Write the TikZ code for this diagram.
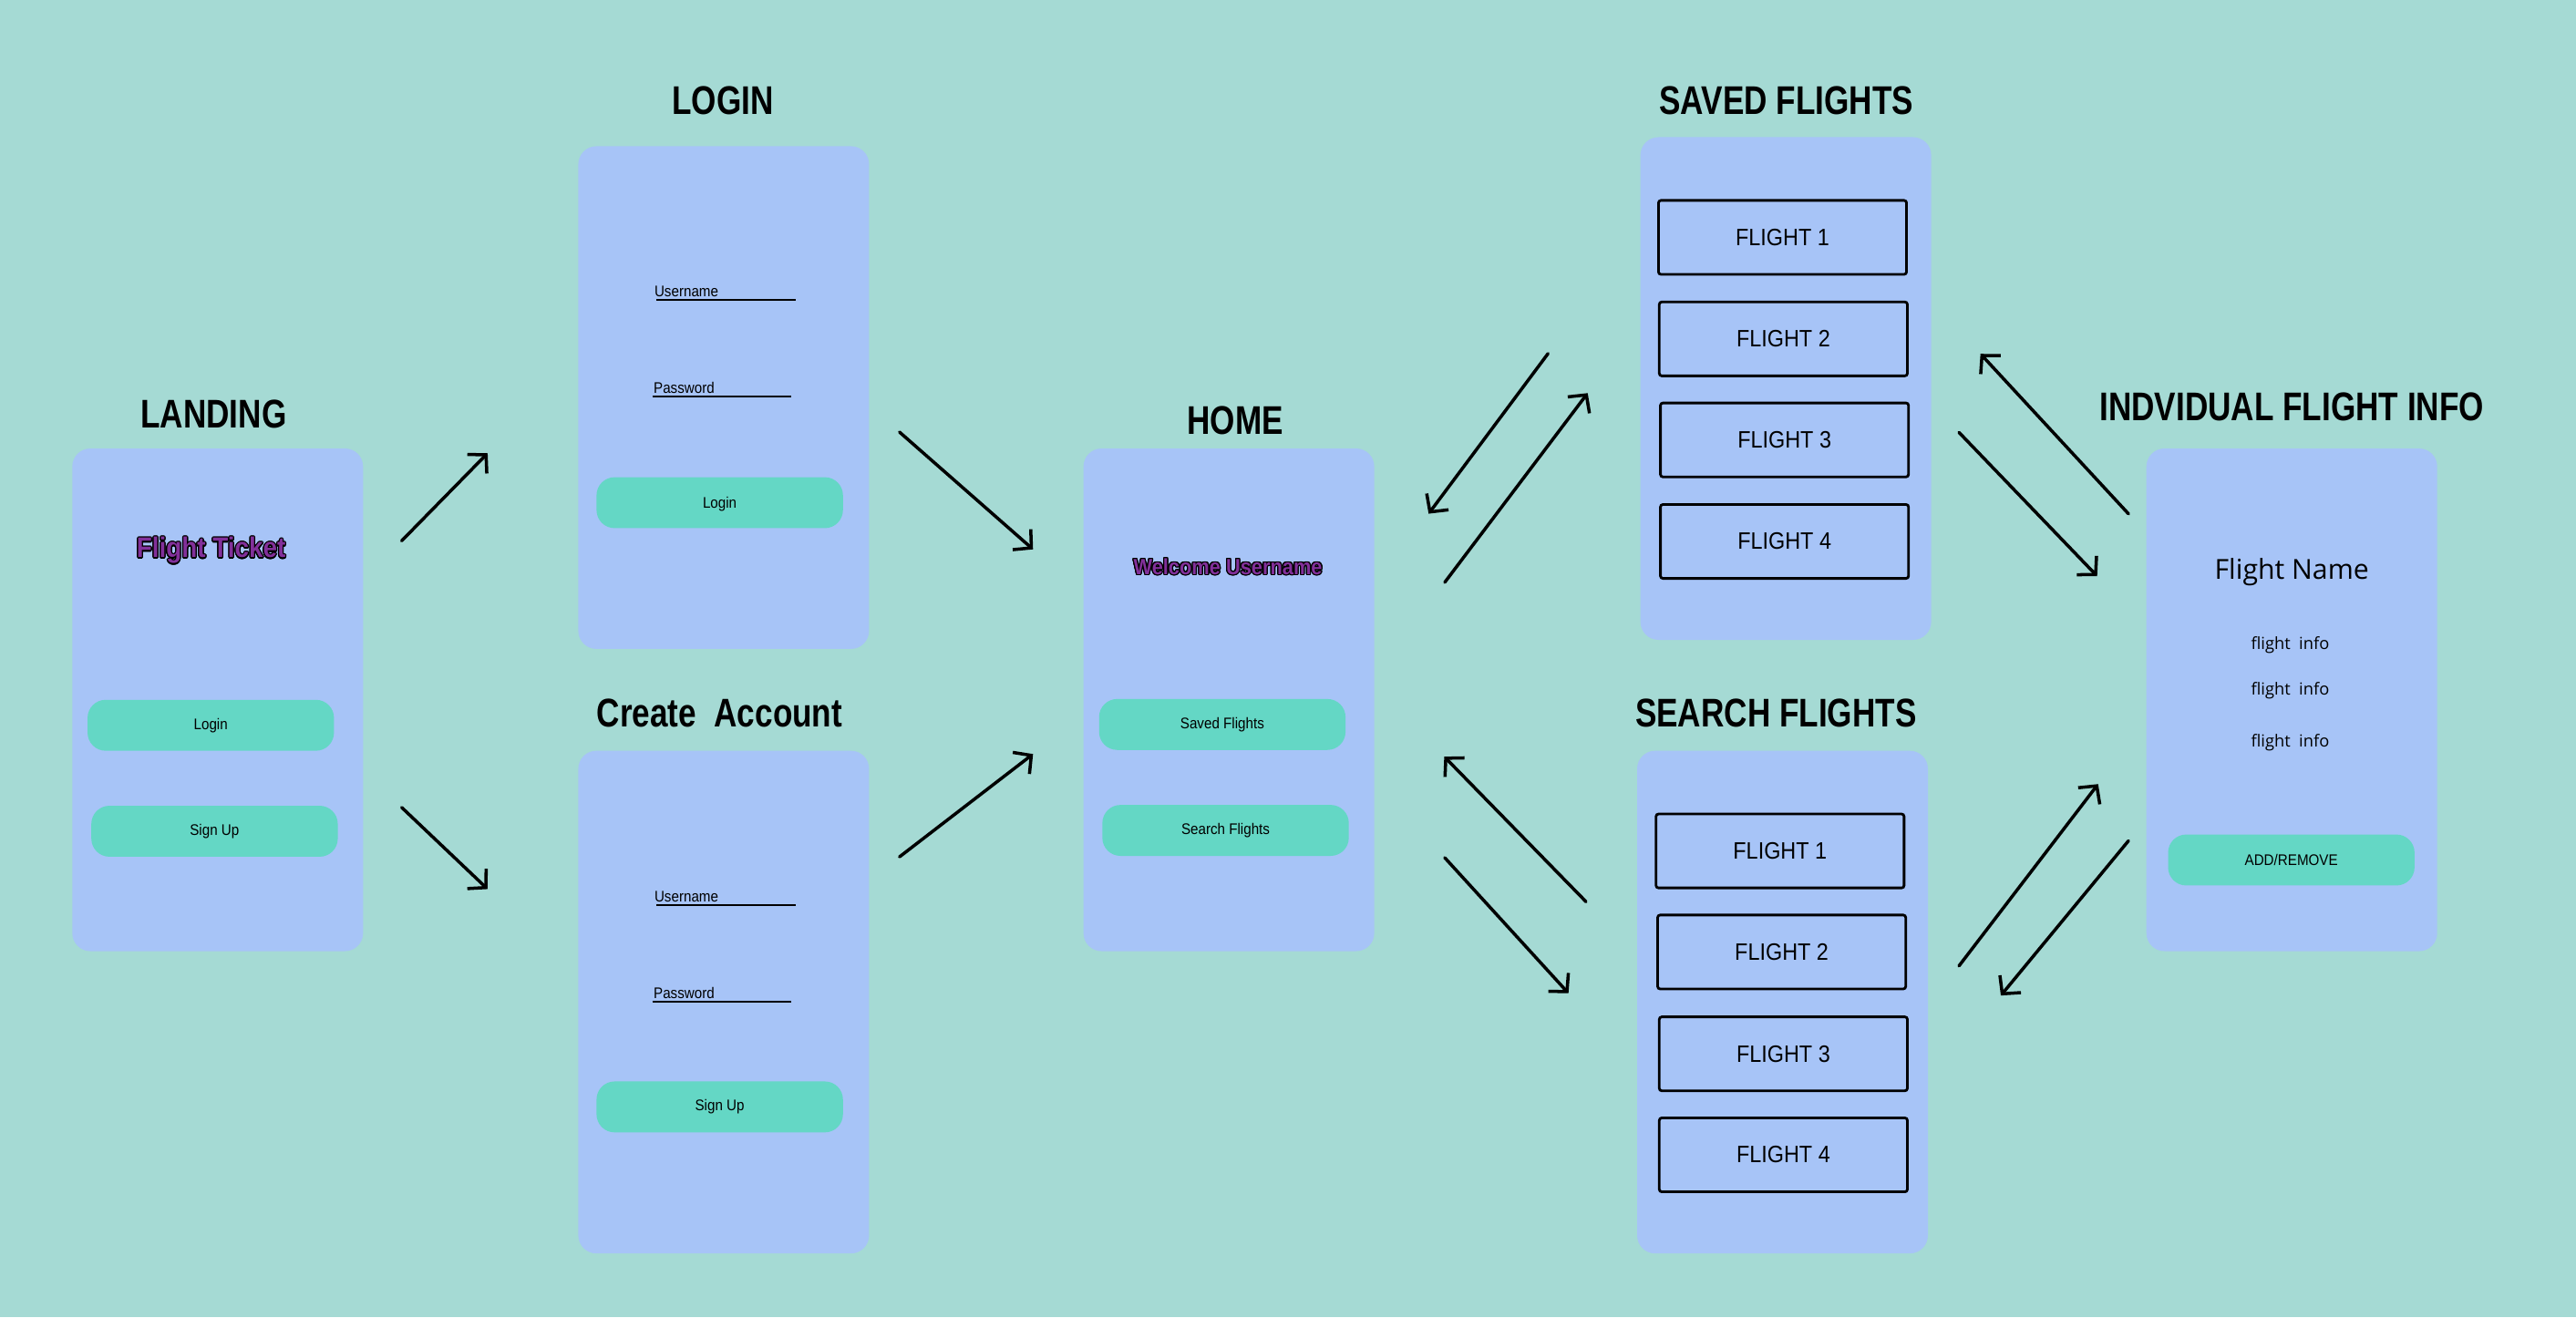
\documentclass[tikz,border=0pt]{standalone}
\usepackage{fontspec}
\setmainfont{Liberation Sans}
\newfontfamily\uifont{Liberation Sans}[FakeStretch=0.9]
\newfontfamily\headfont{Liberation Sans}[FakeStretch=0.8]
\newfontfamily\infofont{Open Sans}
\usepackage[copies]{contour}
\contourlength{0.35pt}
\usetikzlibrary{arrows.meta}

\definecolor{bgteal}{HTML}{A5DAD4}
\definecolor{screenblue}{HTML}{A7C4F7}
\definecolor{btnteal}{HTML}{64D7C5}
\definecolor{logopurple}{HTML}{82309A}

\def\pu{0.018023cm}

\tikzset{
  screen/.style={fill=screenblue, rounded corners=11*\pu, minimum width=177*\pu, minimum height=306*\pu, inner sep=0pt},
  title/.style={inner sep=0pt, font=\headfont\bfseries\fontsize{12.5}{15}\selectfont},
  btn/.style={fill=btnteal, rounded corners=11*\pu, minimum width=150*\pu, minimum height=31*\pu, inner sep=0pt, font=\uifont\fontsize{4.8}{5.8}\selectfont},
  field/.style={anchor=base west, inner sep=0pt, font=\uifont\fontsize{4.8}{5.8}\selectfont},
  fieldline/.style={line width=0.5pt},
  flightbox/.style={draw=black, line width=0.8pt, rounded corners=1.5*\pu, minimum width=151*\pu, minimum height=45*\pu, inner sep=0pt, font=\uifont\fontsize{7.4}{9}\selectfont},
  logo/.style={inner sep=0pt, text=logopurple, font=\uifont\bfseries\fontsize{#1}{12}\selectfont},
  info/.style={inner sep=0pt, font=\infofont\fontsize{5.2}{6.2}\selectfont},
  flow/.style={line width=1pt, line cap=round, -{Straight Barb[length=4pt,width=8.5pt]}}
}

\begin{document}
\begin{tikzpicture}[x=0.018023cm, y=-0.018023cm]
  % fondo
  \fill[bgteal] (0,0) rectangle (1568,802);
  \useasboundingbox (0,0) rectangle (1568,802);

  % Landing
  \node[title] (landingT) at (130,252) {LANDING};
  \node[screen] (landing) at (132.5,426) {};
  \node[logo=8.8] (ticket) at (128.5,335.5) {\contour{black}{Flight Ticket}};
  \node[btn] (landLogin) at (128.3,441.5) {Login};
  \node[btn] (landSign) at (130.6,506) {Sign Up};

  % Login
  \node[title] (loginT) at (440,61) {LOGIN};
  \node[screen] (login) at (440.5,242) {};
  \node[field] (lgUser) at (398,180.5) {Username};
  \draw[fieldline] (399.7,182.5) -- (484.2,182.5);
  \node[field] (lgPass) at (397.5,239.4) {Password};
  \draw[fieldline] (397,241.4) -- (481.6,241.4);
  \node[btn, text depth=-2pt] (lgBtn) at (438.1,306) {Login};

  % Create account
  \node[title] (createT) at (438,434) {Create\ \ Account};
  \node[screen] (create) at (440.5,610) {};
  \node[field] (crUser) at (398,548.9) {Username};
  \draw[fieldline] (399.7,550.9) -- (484.2,550.9);
  \node[field] (crPass) at (397.5,607.8) {Password};
  \draw[fieldline] (397,609.8) -- (481.6,609.8);
  \node[btn] (crBtn) at (438.1,673.8) {Sign Up};

  % Home
  \node[title] (homeT) at (752,256) {HOME};
  \node[screen] (home) at (748,426) {};
  \node[logo=6.9] (welcome) at (747.4,345.3) {\contour{black}{Welcome Username}};
  \node[btn] (hmSaved) at (744,441) {Saved Flights};
  \node[btn] (hmSearch) at (746,505.5) {Search Flights};

  % Saved flights
  \node[title] (savedT) at (1087.3,61.5) {SAVED FLIGHTS};
  \node[screen] (saved) at (1087,236.5) {};
  \node[flightbox] (sv1) at (1085,144.5) {FLIGHT 1};
  \node[flightbox] (sv2) at (1085.5,206.3) {FLIGHT 2};
  \node[flightbox] (sv3) at (1086.2,267.8) {FLIGHT 3};
  \node[flightbox] (sv4) at (1086.2,329.6) {FLIGHT 4};

  % Search flights
  \node[title] (searchT) at (1081,434) {SEARCH FLIGHTS};
  \node[screen] (search) at (1085,610) {};
  \node[flightbox] (sr1) at (1083.5,518) {FLIGHT 1};
  \node[flightbox] (sr2) at (1084.5,579.5) {FLIGHT 2};
  \node[flightbox] (sr3) at (1085.5,641.5) {FLIGHT 3};
  \node[flightbox] (sr4) at (1085.5,703) {FLIGHT 4};

  % Individual flight info
  \node[title] (indivT) at (1395,247.8) {INDVIDUAL FLIGHT INFO};
  \node[screen] (indiv) at (1395,426) {};
  \node[inner sep=0pt, font=\infofont\fontsize{8.6}{10}\selectfont] (fname) at (1395,348) {Flight Name};
  \node[info] (inf1) at (1394,392.5) {flight\ \ info};
  \node[info] (inf2) at (1394,420.5) {flight\ \ info};
  \node[info] (inf3) at (1394,452) {flight\ \ info};
  \node[btn] (addBtn) at (1394.7,523.5) {ADD/REMOVE};

  % Flechas
  \foreach \n/\sx/\sy/\ex/\ey in {1/244.5/329.2/296.8/275.9, 2/244.5/491.5/296.8/541.2,
      3/547.5/263/628.8/334.4, 4/547.5/521.6/628.8/459,
      5/942.3/215.2/869.6/312.7, 6/879.4/354.5/966.4/239.3,
      7/965.4/548.9/879.1/460.6, 8/879.4/522.1/954.7/604.6,
      9/1295.6/312.8/1205.5/215.4, 10/1192.4/263.2/1276.5/350.7,
      11/1192.4/588/1277.1/477.3, 12/1295.6/511.8/1217.9/606} {
    \coordinate (s\n) at (\sx,\sy);
    \coordinate (e\n) at (\ex,\ey);
    \draw[flow] (s\n) -- (e\n);
  }
\end{tikzpicture}
\end{document}
